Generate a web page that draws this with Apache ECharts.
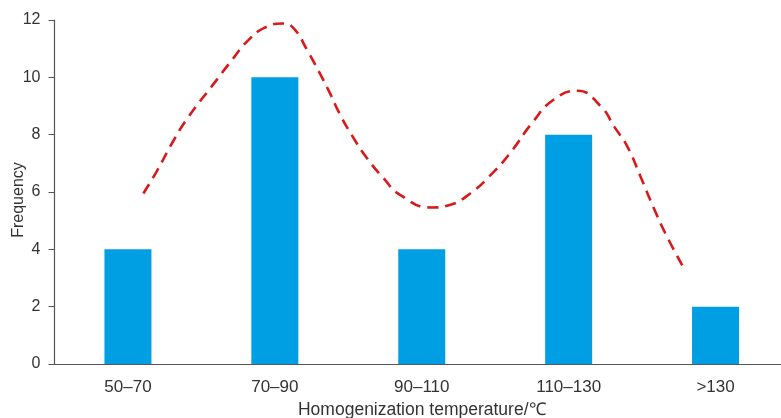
<!DOCTYPE html>
<html><head><meta charset="utf-8">
<script src="https://cdn.jsdelivr.net/npm/echarts@6/dist/echarts.min.js"></script>
<style>html,body{margin:0;padding:0;background:#fff}#c{width:781px;height:418px}</style>
</head><body><div id="c"></div>
<script>
var categories = ['50\u201370', '70\u201390', '90\u2013110', '110\u2013130', '>130'];
var frequency = [4, 10, 4, 8, 2];
var yTicks = { min: 0, max: 12, interval: 2 };
var curveTemp = [62.1, 63.9, 66.0, 68.1, 71.9, 74.0, 76.4, 78.7, 81.1, 82.6, 84.4, 85.9, 87.4, 88.8, 90.6, 92.4, 94.8, 97.1, 101.3, 103.7, 106.6, 109.6, 112.0, 115.0, 117.9, 121.2, 124.4, 126.2, 128.0, 129.8, 131.6, 133.4, 135.7];
var curveFreq = [5.95, 6.71, 7.70, 8.57, 9.85, 10.55, 11.3, 11.74, 11.88, 11.7, 10.95, 10.25, 9.5, 8.74, 7.93, 7.23, 6.48, 5.89, 5.46, 5.54, 5.95, 6.65, 7.35, 8.40, 9.21, 9.53, 8.98, 8.28, 7.58, 6.53, 5.43, 4.44, 3.34];
var tempRange = { min: 50, max: 150 };

var font = 'Liberation Sans, Arial, sans-serif';
var chart = echarts.init(document.getElementById('c'), null, { renderer: 'canvas' });
chart.setOption({
  animation: false,
  backgroundColor: '#fff',
  grid: { left: 54.5, right: -8, top: 20, bottom: 54, containLabel: false, outerBoundsMode: 'none' },
  xAxis: [{
    type: 'category', data: categories,
    axisLine: { lineStyle: { color: '#555', width: 1.2 } },
    axisTick: { show: false },
    axisLabel: { color: '#333', fontSize: 17, fontFamily: font, margin: 15 },
    name: 'Homogenization temperature/\u2103', nameLocation: 'middle', nameGap: 37, nameMoveOverlap: false,
    nameTextStyle: { color: '#333', fontSize: 17.5, fontFamily: font }
  }, {
    type: 'value', min: tempRange.min, max: tempRange.max, show: false
  }],
  yAxis: {
    type: 'value', min: yTicks.min, max: yTicks.max, interval: yTicks.interval,
    splitLine: { show: false },
    axisLine: { show: true, lineStyle: { color: '#555', width: 1.2 } },
    axisTick: { show: true, length: 6, lineStyle: { color: '#555' } },
    axisLabel: { color: '#333', fontSize: 16, fontFamily: font, margin: 14 },
    name: 'Frequency', nameLocation: 'middle', nameGap: 28, nameRotate: 90, nameMoveOverlap: false,
    nameTextStyle: { color: '#333', fontSize: 16, fontFamily: font, padding: [0, 16, 0, 0] }
  },
  series: [{
    type: 'bar', xAxisIndex: 0, data: frequency, barWidth: 47,
    itemStyle: { color: '#009FE3' }
  }, {
    type: 'line', xAxisIndex: 1, smooth: 0.5, symbol: 'none',
    data: curveTemp.map(function (t, i) { return [t, curveFreq[i]]; }),
    lineStyle: { color: '#D7191C', width: 2.6, type: [11, 7] }
  }]
});
</script></body></html>
